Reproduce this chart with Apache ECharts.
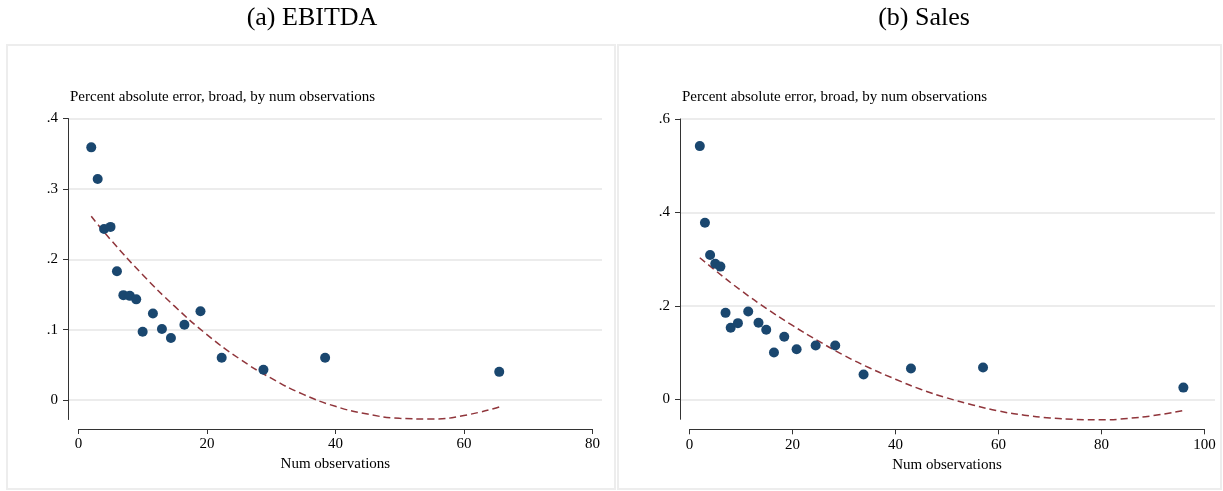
<!DOCTYPE html>
<html><head><meta charset="utf-8">
<script src="https://cdn.jsdelivr.net/npm/echarts@6/dist/echarts.min.js"></script>
<style>html,body{margin:0;padding:0;background:#fff}#c{width:1223px;height:491px}</style>
</head><body><div id="c"></div>
<script>
// ---------- data ----------
const panelTitles = ['(a) EBITDA', '(b) Sales'];
const yTitle = 'Percent absolute error, broad, by num observations';
const xTitle = 'Num observations';

const ebitdaX = [2, 3, 4, 5, 6, 7, 8, 9, 10, 11.6, 13, 14.4, 16.5, 19, 22.3, 28.8, 38.4, 65.5];
const ebitdaY = [0.359, 0.314, 0.243, 0.246, 0.183, 0.149, 0.148, 0.143, 0.097, 0.123, 0.101, 0.088, 0.107, 0.126, 0.060, 0.043, 0.060, 0.040];
const ebitdaFitX = [2, 5, 10, 15, 20, 25, 30, 35, 40, 45, 50, 55, 60, 65.5];
const ebitdaFitY = [0.261, 0.228, 0.178, 0.133, 0.093, 0.059, 0.031, 0.008, -0.009, -0.020, -0.026, -0.027, -0.022, -0.010];
const ebitdaXTicks = [0, 20, 40, 60, 80];
const ebitdaYTicks = [0, 0.1, 0.2, 0.3, 0.4];

const salesX = [2, 3, 4, 5, 6, 7, 8, 9.4, 11.4, 13.4, 14.9, 16.4, 18.4, 20.8, 24.5, 28.3, 33.8, 43, 57, 95.9];
const salesY = [0.542, 0.378, 0.309, 0.290, 0.284, 0.185, 0.153, 0.163, 0.188, 0.164, 0.149, 0.100, 0.134, 0.107, 0.115, 0.115, 0.053, 0.066, 0.068, 0.025];
const salesFitX = [2, 5, 10, 15, 20, 25, 30, 35, 40, 45, 50, 55, 60, 65, 70, 75, 80, 85, 90, 95.9];
const salesFitY = [0.303, 0.276, 0.233, 0.194, 0.158, 0.125, 0.094, 0.067, 0.043, 0.021, 0.003, -0.012, -0.025, -0.034, -0.040, -0.043, -0.044, -0.041, -0.035, -0.024];
const salesXTicks = [0, 20, 40, 60, 80, 100];
const salesYTicks = [0, 0.2, 0.4, 0.6];

// ---------- style ----------
const FONT = 'Liberation Serif';
const MARKER = '#1a476f';
const FIT = '#90353b';
const AXIS = '#333';
const GRIDLINE = '#e6e6e6';

const panels = [
  { xs: ebitdaX, ys: ebitdaY, fx: ebitdaFitX, fy: ebitdaFitY, xt: ebitdaXTicks, yt: ebitdaYTicks,
    axisLeft: 68, plotLeft: 78.4, plotWidth: 514, gridWidth: 534, top: 118.5, h: 281.5, ext: 19.5, xOff: 29,
    title: panelTitles[0], titleX: 312, subX: 70, box: [7, 45, 608, 444] },
  { xs: salesX, ys: salesY, fx: salesFitX, fy: salesFitY, xt: salesXTicks, yt: salesYTicks,
    axisLeft: 680, plotLeft: 689.5, plotWidth: 515, gridWidth: 535, top: 119, h: 280.3, ext: 20, xOff: 30,
    title: panelTitles[1], titleX: 924, subX: 682, box: [618, 45, 603, 444] }
];

const grid = [], xAxis = [], yAxis = [], series = [], graphic = [];
const fmtY = v => { const s = String(Number(v.toFixed(2))); return s === '0' ? '0' : s.replace(/^0\./, '.').replace(/^-0\./, '-.'); };

panels.forEach((p, i) => {
  const g0 = grid.length;
  grid.push({ left: p.axisLeft, top: p.top, width: p.gridWidth, height: p.h, outerBoundsMode: 'none', containLabel: false });
  grid.push({ left: p.plotLeft, top: p.top, width: p.plotWidth, height: p.h, outerBoundsMode: 'none', containLabel: false });
  grid.push({ left: p.axisLeft, top: p.top + p.h, width: 10, height: p.ext, outerBoundsMode: 'none', containLabel: false });

  const yMin = p.yt[0], yMax = p.yt[p.yt.length - 1], yInt = p.yt[1] - p.yt[0];
  const xMin = p.xt[0], xMax = p.xt[p.xt.length - 1], xInt = p.xt[1] - p.xt[0];

  xAxis.push({ gridIndex: g0, type: 'value', min: 0, max: 1, show: false });
  yAxis.push({ gridIndex: g0, type: 'value', min: yMin, max: yMax, interval: yInt,
    axisLine: { show: true, onZero: false, lineStyle: { color: AXIS, width: 1 } },
    axisTick: { show: true, length: 5, lineStyle: { color: AXIS } },
    axisLabel: { margin: 10, color: '#000', fontFamily: FONT, fontSize: 15, formatter: fmtY },
    splitLine: { show: true, lineStyle: { color: GRIDLINE, width: 1.5 } } });
  xAxis.push({ gridIndex: g0 + 1, type: 'value', min: xMin, max: xMax, interval: xInt, offset: p.xOff,
    name: xTitle, nameLocation: 'middle', nameGap: 26,
    nameTextStyle: { color: '#000', fontFamily: FONT, fontSize: 15 },
    axisLine: { show: true, onZero: false, lineStyle: { color: AXIS, width: 1 } },
    axisTick: { show: true, length: 5, lineStyle: { color: AXIS } },
    axisLabel: { margin: 8, color: '#000', fontFamily: FONT, fontSize: 15 },
    splitLine: { show: false } });
  yAxis.push({ gridIndex: g0 + 1, type: 'value', min: yMin, max: yMax, show: false });
  xAxis.push({ gridIndex: g0 + 2, type: 'value', min: 0, max: 1, show: false });
  yAxis.push({ gridIndex: g0 + 2, type: 'value', min: 0, max: 1,
    axisLine: { show: true, onZero: false, lineStyle: { color: AXIS, width: 1 } },
    axisTick: { show: false }, axisLabel: { show: false }, splitLine: { show: false } });

  series.push({ type: 'line', xAxisIndex: g0 + 1, yAxisIndex: g0 + 1, clip: false,
    data: p.fx.map((x, k) => [x, p.fy[k]]), smooth: true, showSymbol: false, silent: true,
    lineStyle: { color: FIT, width: 1.5, type: [7, 4] }, z: 3 });
  series.push({ type: 'scatter', xAxisIndex: g0 + 1, yAxisIndex: g0 + 1, clip: false,
    data: p.xs.map((x, k) => [x, p.ys[k]]), symbol: 'circle', symbolSize: 10,
    itemStyle: { color: MARKER, opacity: 1 }, z: 4 });

  graphic.push({ type: 'rect', shape: { x: p.box[0], y: p.box[1], width: p.box[2], height: p.box[3] },
    style: { fill: 'none', stroke: '#ededed', lineWidth: 2 }, z: -10 });
  graphic.push({ type: 'text', x: p.titleX, y: 18,
    style: { text: p.title, font: '26px "' + FONT + '"', fill: '#000', textAlign: 'center', textVerticalAlign: 'middle' } });
  graphic.push({ type: 'text', x: p.subX, y: 97,
    style: { text: yTitle, font: '15px "' + FONT + '"', fill: '#000', textAlign: 'left', textVerticalAlign: 'middle' } });
});

const chart = echarts.init(document.getElementById('c'), null, { renderer: 'canvas' });
chart.setOption({ animation: false, backgroundColor: '#fff', grid, xAxis, yAxis, series, graphic });
</script></body></html>
